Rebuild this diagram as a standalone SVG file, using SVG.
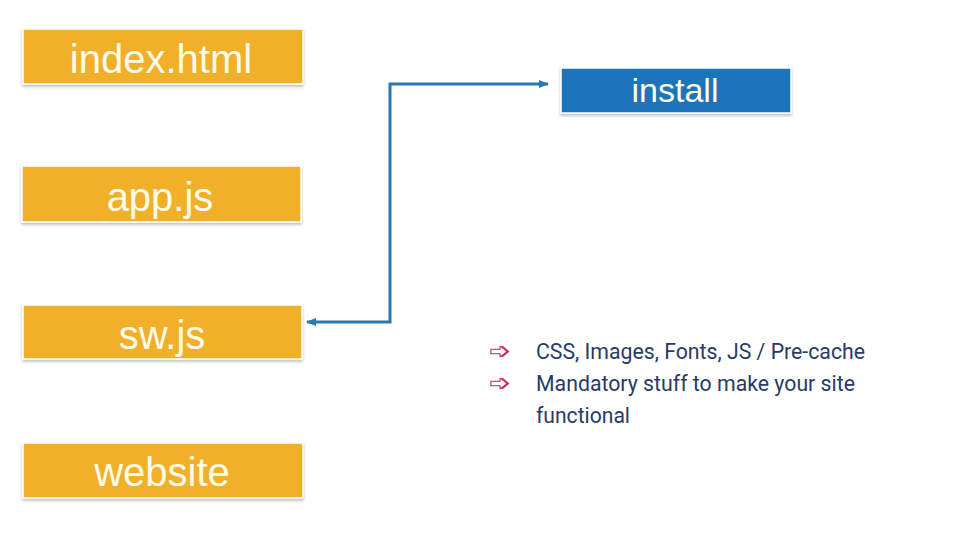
<svg xmlns="http://www.w3.org/2000/svg" width="960" height="540" viewBox="0 0 960 540">
  <defs>
    <filter id="sh" x="-10%" y="-20%" width="120%" height="150%">
      <feDropShadow dx="0" dy="2" stdDeviation="1.5" flood-color="#000" flood-opacity="0.25"/>
    </filter>
    <marker id="arr" viewBox="0 0 10 10" refX="9" refY="5" markerWidth="3.4" markerHeight="3.4" orient="auto-start-reverse" markerUnits="strokeWidth">
      <path d="M0,1 L10,5 L0,9 Z" fill="#2a78b0"/>
    </marker>
  </defs>
  <style>
    .box { fill: #f0b02b; stroke: #fff; stroke-width: 1.5; filter: url(#sh); }
    .bbox { fill: #1b74bb; stroke: #fff; stroke-width: 1.5; filter: url(#sh); }
    .lbl { font-family: "Liberation Sans", Arial, sans-serif; fill: #fffbe8; text-anchor: middle; }
    .conn { fill: none; stroke: #2a78b0; stroke-width: 3; }
    .bul { font-family: "DejaVu Sans", sans-serif; font-size: 24px; fill: #c8336a; }
    .txt { font-family: Roboto, "Noto Sans", sans-serif; font-size: 22px; fill: #2a3a66; }
  </style>
  <rect width="960" height="540" fill="#fff"/>
  <g id="index-html">
    <rect class="box" x="23" y="29" width="280" height="55"/>
    <text class="lbl" x="161" y="73" font-size="40">index.html</text>
  </g>
  <g id="app-js">
    <rect class="box" x="22" y="166" width="279" height="56"/>
    <text class="lbl" x="160" y="211" font-size="40">app.js</text>
  </g>
  <g id="sw-js">
    <rect class="box" x="23" y="305" width="279" height="54"/>
    <text class="lbl" x="162" y="349" font-size="40">sw.js</text>
  </g>
  <g id="website">
    <rect class="box" x="23" y="443" width="280" height="55"/>
    <text class="lbl" x="162" y="486" font-size="40">website</text>
  </g>
  <g id="install">
    <rect class="bbox" x="561" y="68" width="230" height="45"/>
    <text class="lbl" x="675" y="102" font-size="34" fill="#fff">install</text>
  </g>
  <g id="connectors">
    <path class="conn" d="M307,322 L390,322 L390,84 L548,84" marker-start="url(#arr)" marker-end="url(#arr)"/>
  </g>
  <g id="notes">
    <text class="bul" x="489" y="359" textLength="23" lengthAdjust="spacingAndGlyphs">➩</text>
    <text class="txt" x="536" y="359" textLength="329" lengthAdjust="spacingAndGlyphs">CSS, Images, Fonts, JS / Pre-cache</text>
    <text class="bul" x="489" y="391" textLength="23" lengthAdjust="spacingAndGlyphs">➩</text>
    <text class="txt" x="536" y="391" textLength="319" lengthAdjust="spacingAndGlyphs">Mandatory stuff to make your site</text>
    <text class="txt" x="536" y="423" textLength="94" lengthAdjust="spacingAndGlyphs">functional</text>
  </g>
</svg>
